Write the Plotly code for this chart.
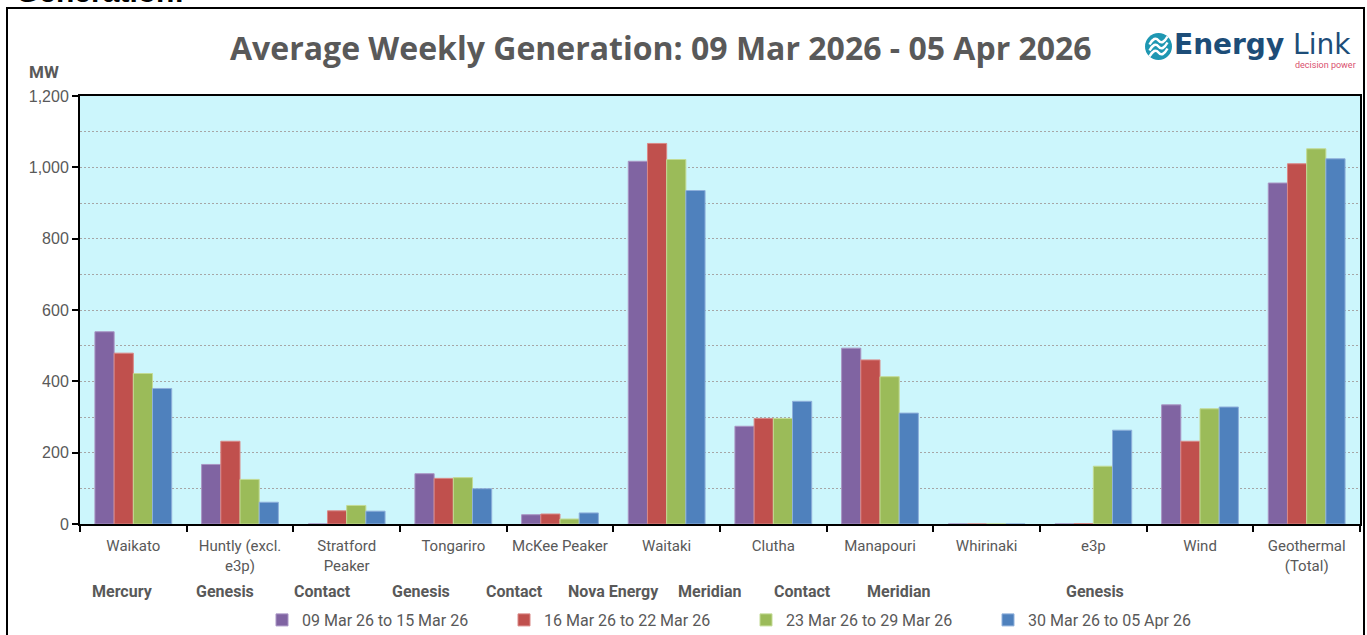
import plotly.graph_objects as go

# Data (MW)
stations = ["Waikato", "Huntly (excl.<br>e3p)", "Stratford<br>Peaker", "Tongariro", "McKee Peaker",
            "Waitaki", "Clutha", "Manapouri", "Whirinaki", "e3p", "Wind", "Geothermal<br>(Total)"]
week1 = [539, 167, 0, 141, 26, 1017, 274, 493, 0, 0, 334, 956]
week2 = [479, 232, 37, 128, 28, 1067, 296, 460, 0, 1, 232, 1010]
week3 = [422, 125, 52, 130, 14, 1022, 296, 413, 0, 162, 323, 1052]
week4 = [380, 61, 36, 99, 31, 935, 344, 311, 0, 263, 328, 1024]
week_names = ["09 Mar 26 to 15 Mar 26", "16 Mar 26 to 22 Mar 26",
              "23 Mar 26 to 29 Mar 26", "30 Mar 26 to 05 Apr 26"]
owners = ["Mercury", "Genesis", "Contact", "Genesis", "Contact", "Nova Energy",
          "Meridian", "Contact", "Meridian", "Genesis"]
owner_px = [122, 225, 322, 421, 514, 613, 710, 802, 899, 1095]

colors = ["#8064A2", "#C0504D", "#9BBB59", "#4F81BD"]
edges = ["#A995C4", "#D98886", "#C3DB95", "#8FB0DB"]
GREY = "#595959"
FONT = "Roboto, Liberation Sans, sans-serif"

W, H = 1367, 635
L, R, T, B = 80, 7, 96, 111
PW, PH = W - L - R, H - T - B


def fx(px):
    return (px - L) / PW


def fy(py):
    return (H - B - py) / PH


fig = go.Figure()
for name, vals, c, e in zip(week_names, [week1, week2, week3, week4], colors, edges):
    fig.add_trace(go.Bar(x=stations, y=vals, name=name,
                         marker=dict(color=c, line=dict(color=e, width=1))))

fig.update_layout(
    width=W, height=H,
    margin=dict(l=L, r=R, t=T, b=B, autoexpand=False),
    paper_bgcolor="white", plot_bgcolor="#CCF6FC",
    barmode="group", bargap=0.28, bargroupgap=0,
    font=dict(family=FONT, color=GREY),
    showlegend=True,
    legend=dict(orientation="h", x=fx(746), xanchor="center", y=fy(620), yanchor="middle",
                font=dict(size=16, color=GREY), entrywidth=197, itemwidth=30,
                bgcolor="rgba(0,0,0,0)"),
)

fig.update_yaxes(range=[0, 1200], dtick=200, tickformat=",", showgrid=True,
                 gridcolor="#A6A6A6", griddash="2px,2px", gridwidth=1,
                 minor=dict(dtick=100, showgrid=True, gridcolor="#A6A6A6", griddash="2px,2px", gridwidth=1),
                 ticks="outside", ticklen=6, tickwidth=2, tickcolor="black",
                 showline=True, linecolor="black", linewidth=2, mirror=True,
                 tickfont=dict(family="Liberation Sans, Arial, sans-serif", size=16, color=GREY),
                 zeroline=False, fixedrange=True)
fig.update_xaxes(tickson="boundaries", ticks="outside", ticklen=6, tickwidth=2, tickcolor="black",
                 showline=True, linecolor="black", linewidth=2, mirror=True,
                 ticklabelstandoff=7,
                 tickfont=dict(size=15, color=GREY), tickangle=0, fixedrange=True)

ann = []
# Title
ann.append(dict(text="<b>Average Weekly Generation: 09 Mar 2026 - 05 Apr 2026</b>",
                x=fx(661), y=fy(48), xanchor="center", yanchor="middle",
                font=dict(family="Open Sans, Roboto, sans-serif", size=32, color=GREY)))
# partially visible heading above the frame
ann.append(dict(text="<b>Generation:</b>", x=fx(14), y=fy(10), xanchor="left", yanchor="bottom",
                font=dict(family="Liberation Sans, Arial", size=30, color="black")))
# Y axis unit
ann.append(dict(text="<b>MW</b>", x=fx(44), y=fy(72), xanchor="center", yanchor="middle",
                font=dict(size=17, color=GREY)))
# Owners row
for o, p in zip(owners, owner_px):
    ann.append(dict(text="<b>" + o + "</b>", x=fx(p), y=fy(591), xanchor="center", yanchor="middle",
                    font=dict(size=16, color=GREY)))
# Logo text
ann.append(dict(text="<b>Energy</b> Link", x=fx(1172), y=fy(44), xanchor="left", yanchor="middle",
                font=dict(family="DejaVu Sans, sans-serif", size=28, color="#1D4D78")))
ann.append(dict(text="decision power", x=fx(1358), y=fy(65), xanchor="right", yanchor="middle",
                font=dict(size=9, color="#D9506E")))
for a in ann:
    a.update(xref="paper", yref="paper", showarrow=False)
fig.update_layout(annotations=ann)

shapes = []
# outer frame
shapes.append(dict(type="rect", xref="paper", yref="paper", x0=fx(7), x1=fx(1364), y0=fy(650), y1=fy(8),
                   line=dict(color="black", width=2)))
# logo icon
cx, cy, r = 1158.5, 46.5, 13.5
shapes.append(dict(type="circle", xref="paper", yref="paper", x0=fx(cx - r), x1=fx(cx + r),
                   y0=fy(cy + r), y1=fy(cy - r), fillcolor="#1E97B2", line=dict(width=0)))
for d in (-6, 0, 6):
    p = "M %f,%f Q %f,%f %f,%f T %f,%f" % (
        fx(cx - 9), fy(cy + d + 4), fx(cx - 4), fy(cy + d - 5), fx(cx), fy(cy + d),
        fx(cx + 9), fy(cy + d - 4))
    shapes.append(dict(type="path", xref="paper", yref="paper", path=p,
                       line=dict(color="white", width=2.5)))
fig.update_layout(shapes=shapes)

# page body has an 8px default margin; drop it so the figure fills the window
fig.write_html("out.html", config={"displayModeBar": False},
               post_script="document.body.style.margin='0';document.body.style.overflow='hidden';")
